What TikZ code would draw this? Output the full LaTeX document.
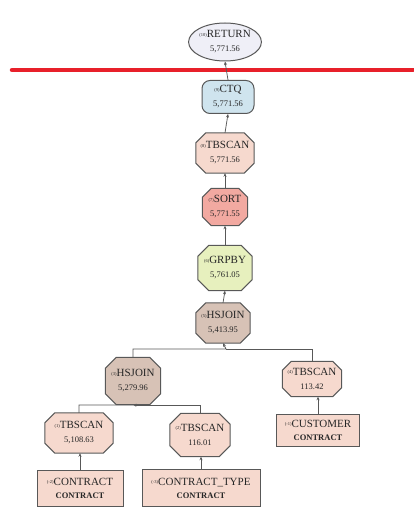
\documentclass[tikz,border=0pt]{standalone}
\usepackage{fontspec}
\setmainfont{Liberation Serif}
\usetikzlibrary{arrows.meta,backgrounds,shapes.geometric}

% operator label: tiny number prefix, operator name, cost below
\newcommand\opnum[1]{\raisebox{1.8pt}{\fontsize{4.5}{5}\selectfont#1}}
\newcommand\oplabel[3]{\opnum{#1}#2\\{\fontsize{8.5}{14}\selectfont#3}}
\newcommand\tablabel[3]{\opnum{#1}#2\\{\fontsize{8.5}{13}\selectfont\bfseries#3}}

% octagon drawn around a named node, chamfer #2, style #3
\newcommand\opoctagon[3]{%
  \path[octline,#3]
    ([xshift=#2]#1.north west) -- ([xshift=-#2]#1.north east)
    -- ([yshift=-#2]#1.north east) -- ([yshift=#2]#1.south east)
    -- ([xshift=-#2]#1.south east) -- ([xshift=#2]#1.south west)
    -- ([yshift=#2]#1.south west) -- ([yshift=-#2]#1.north west) -- cycle;}

\definecolor{edgegray}{HTML}{585858}
\definecolor{txtgray}{HTML}{262626}
\definecolor{retfill}{HTML}{EFEFF7}
\definecolor{ctqfill}{HTML}{CFE4EE}
\definecolor{scanfill}{HTML}{F6D9CE}
\definecolor{sortfill}{HTML}{F2A9A1}
\definecolor{grpfill}{HTML}{E7F0BE}
\definecolor{joinfill}{HTML}{D7C2B6}
\definecolor{limitred}{HTML}{E8202A}

\tikzset{
  opnode/.style={rectangle, inner sep=0pt, align=center, text=txtgray,
    font=\fontsize{11}{14}\selectfont},
  octline/.style={draw=edgegray, line width=1pt},
  tabbox/.style={opnode, draw=edgegray, line width=1pt, fill=scanfill,
    font=\fontsize{11}{13}\selectfont},
  conn/.style={draw=edgegray, line width=0.75pt,
    -{Stealth[length=3.5pt,width=3pt]}},
  busline/.style={draw=edgegray, line width=0.75pt},
}

\begin{document}
\begin{tikzpicture}[x=1pt,y=-1pt]
\useasboundingbox (0,0) rectangle (413,508);

% return node and the red limit line
\node[opnode, ellipse, draw=edgegray, line width=1pt, fill=retfill,
  minimum width=66pt, minimum height=38pt] (ret) at (225,42)
  {\oplabel{(10)}{RETURN}{5,771.56}};
\coordinate (redL) at (12,70);
\coordinate (redR) at (413,70);
\draw[limitred, line width=4.5pt, line cap=round] (redL) -- (redR);

\node[opnode, draw=edgegray, line width=1pt, fill=ctqfill,
  rounded corners=8pt, minimum width=52pt, minimum height=33pt] (ctq) at (228,97)
  {\oplabel{(9)}{CTQ}{5,771.56}};

% octagonal operators
\node[opnode, minimum width=58pt, minimum height=40pt] (tb6) at (225,153)
  {\oplabel{(8)}{TBSCAN}{5,771.56}};
\node[opnode, minimum width=45pt, minimum height=37pt] (sort) at (225,207)
  {\oplabel{(7)}{SORT}{5,771.55}};
\node[opnode, minimum width=54pt, minimum height=45pt] (grp) at (225,268)
  {\oplabel{(6)}{GRPBY}{5,761.05}};
\node[opnode, minimum width=54pt, minimum height=40pt] (hs5) at (223,323)
  {\oplabel{(5)}{HSJOIN}{5,413.95}};
\node[opnode, minimum width=55pt, minimum height=47pt] (hs3) at (133,381)
  {\oplabel{(3)}{HSJOIN}{5,279.96}};
\node[opnode, minimum width=59pt, minimum height=35pt] (tb4) at (312,379)
  {\oplabel{(4)}{TBSCAN}{113.42}};
\node[opnode, minimum width=68pt, minimum height=40pt] (tb1) at (79,433)
  {\oplabel{(1)}{TBSCAN}{5,108.63}};
\node[opnode, minimum width=60pt, minimum height=43pt] (tb2) at (200,435)
  {\oplabel{(2)}{TBSCAN}{116.01}};

\begin{scope}[on background layer]
  \opoctagon{tb6}{10pt}{fill=scanfill}
  \opoctagon{sort}{9pt}{fill=sortfill}
  \opoctagon{grp}{11pt}{fill=grpfill}
  \opoctagon{hs5}{10pt}{fill=joinfill}
  \opoctagon{hs3}{11pt}{fill=joinfill}
  \opoctagon{tb4}{9pt}{fill=scanfill}
  \opoctagon{tb1}{10pt}{fill=scanfill}
  \opoctagon{tb2}{11pt}{fill=scanfill}
\end{scope}

% base tables
\node[tabbox, minimum width=83pt, minimum height=32pt] (cust) at (318,430)
  {\tablabel{(-1)}{CUSTOMER}{CONTRACT}};
\node[tabbox, minimum width=86pt, minimum height=36pt] (con) at (80,488)
  {\tablabel{(-2)}{CONTRACT}{CONTRACT}};
\node[tabbox, minimum width=118pt, minimum height=37pt] (ctype) at (201,488)
  {\tablabel{(-3)}{CONTRACT\_TYPE}{CONTRACT}};

% data flow, bottom to top
\draw[conn] (ctq.north) -- (ret.south);
\draw[conn] (tb6.north) -- (ctq.south);
\draw[conn] (sort.north) -- (tb6.south);
\draw[conn] (grp.north) -- (sort.south);
\draw[conn] (hs5.north) -- (grp.south);

\coordinate (bus5) at (226,349);
\draw[busline] (tb4.north) |- (bus5);
\draw[conn] (hs3.north) |- (bus5) -- (hs5.south);

\coordinate (bus3) at (135,405);
\draw[busline] (tb2.north) |- (bus3);
\draw[conn] (tb1.north) |- (bus3) -- (hs3.south);

\draw[conn] (cust.north) -- (cust.north |- tb4.south);
\draw[conn] (con.north) -- (con.north |- tb1.south);
\draw[conn] (ctype.north) -- (ctype.north |- tb2.south);
\end{tikzpicture}
\end{document}
